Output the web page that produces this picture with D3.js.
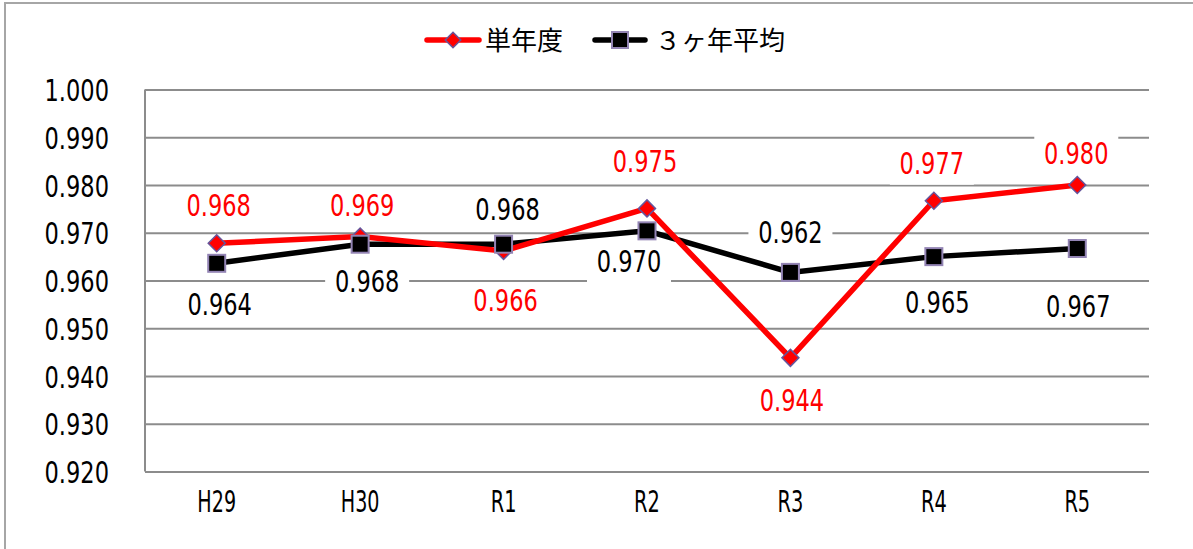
<!DOCTYPE html>
<html>
<head>
<meta charset="utf-8">
<script src="https://cdn.jsdelivr.net/npm/d3@7"></script>
<style>
  body { margin: 0; background: #fff; }
  svg text { font-family: "DejaVu Sans", sans-serif; }
</style>
</head>
<body>
<div id="chart"></div>
<script>
// data
const categories = ['H29', 'H30', 'R1', 'R2', 'R3', 'R4', 'R5'];
const singleYear = [0.9678, 0.9692, 0.9662, 0.9751, 0.9438, 0.9767, 0.9800];
const threeYearAvg = [0.9636, 0.9676, 0.9676, 0.9704, 0.9617, 0.9650, 0.9667];
const yTicks = [0.92, 0.93, 0.94, 0.95, 0.96, 0.97, 0.98, 0.99, 1.0];
const seriesNames = ['単年度', '３ヶ年平均'];

// hand placed label offsets (dx, dy from point)
const singleLabelPos = [[2, -27], [2, -21], [2, 60], [-2, -36], [1.5, 53], [-2, -26.5], [-1, -21]];
const avgLabelPos = [[3, 52], [7, 48], [4, -24], [-18, 41], [0, -29], [3.5, 56], [1, 68]];

const width = 1193;
const height = 549;
const fmt = d3.format('.3f');
const fontSize = 30.5;
const charW = 12.9; // condensed look of the original font

const squeeze = sel => sel
    .attr('textLength', function () { return this.textContent.length * charW; })
    .attr('lengthAdjust', 'spacingAndGlyphs');

const svg = d3.select('#chart')
    .append('svg')
    .attr('width', width)
    .attr('height', height);

// outer frame
svg.append('rect')
    .attr('x', 5).attr('y', 3)
    .attr('width', 1300).attr('height', 700)
    .attr('fill', 'none')
    .attr('stroke', '#a6a6a6')
    .attr('stroke-width', 2);

const x = d3.scaleBand()
    .domain(categories)
    .range([145, 1149]);

const y = d3.scaleLinear()
    .domain([0.92, 1.0])
    .range([471.5, 89.5]);

const cx = d => x(d) + x.bandwidth() / 2;

// gridlines
svg.append('g')
    .attr('transform', 'translate(145,0)')
    .call(d3.axisLeft(y).tickValues(yTicks).tickSize(-(1149 - 145)).tickFormat(''))
    .call(g => g.select('.domain').remove())
    .call(g => g.selectAll('line').attr('stroke', '#8c8c8c').attr('stroke-width', 2));

// vertical axis line
svg.append('line')
    .attr('x1', 145).attr('x2', 145)
    .attr('y1', y(1.0)).attr('y2', y(0.92))
    .attr('stroke', '#8c8c8c')
    .attr('stroke-width', 2);

// y tick labels
svg.append('g')
    .attr('transform', 'translate(109,0)')
    .call(d3.axisLeft(y).tickValues(yTicks).tickSize(0).tickPadding(0).tickFormat(fmt))
    .call(g => g.select('.domain').remove())
    .call(g => g.selectAll('text')
        .attr('fill', '#000')
        .attr('font-size', fontSize)
        .attr('dy', 11)
        .attr('font-family', null)
        .call(squeeze));

// x tick labels
svg.append('g')
    .attr('transform', 'translate(0,471.5)')
    .call(d3.axisBottom(x).tickSize(0).tickPadding(0))
    .call(g => g.select('.domain').remove())
    .call(g => g.selectAll('text')
        .attr('fill', '#000')
        .attr('font-size', fontSize)
        .attr('dy', 40)
        .attr('font-family', null)
        .call(squeeze));

const line = d3.line()
    .x((d, i) => cx(categories[i]))
    .y(d => y(d));

// 3-year average line
svg.append('path')
    .datum(threeYearAvg)
    .attr('d', line)
    .attr('fill', 'none')
    .attr('stroke', '#000')
    .attr('stroke-width', 5.5);

// single year line + diamonds
svg.append('path')
    .datum(singleYear)
    .attr('d', line)
    .attr('fill', 'none')
    .attr('stroke', '#ff0000')
    .attr('stroke-width', 5.5);

svg.selectAll('.diamond')
    .data(singleYear)
    .join('path')
    .attr('class', 'diamond')
    .attr('transform', (d, i) => `translate(${cx(categories[i])},${y(d)}) rotate(45)`)
    .attr('d', 'M-6,-6H6V6H-6Z')
    .attr('fill', '#ff0000')
    .attr('stroke', '#64559c')
    .attr('stroke-width', 1.5);

svg.selectAll('.square')
    .data(threeYearAvg)
    .join('rect')
    .attr('class', 'square')
    .attr('x', (d, i) => cx(categories[i]) - 8.5)
    .attr('y', d => y(d) - 8.5)
    .attr('width', 17)
    .attr('height', 17)
    .attr('fill', '#000')
    .attr('stroke', '#9384b4')
    .attr('stroke-width', 2);

// data labels with white boxes
const addLabels = (values, pos, color) => {
    const g = svg.append('g');
    values.forEach((v, i) => {
        const lx = cx(categories[i]) + pos[i][0];
        const ly = y(v) + pos[i][1];
        g.append('rect')
            .attr('x', lx - 42)
            .attr('y', ly - 28.5)
            .attr('width', 84)
            .attr('height', 39)
            .attr('fill', '#fff');
        g.append('text')
            .attr('x', lx)
            .attr('y', ly)
            .attr('text-anchor', 'middle')
            .attr('font-size', fontSize)
            .attr('fill', color)
            .text(fmt(v))
            .call(squeeze);
    });
};
addLabels(singleYear, singleLabelPos, '#ff0000');
addLabels(threeYearAvg, avgLabelPos, '#000');

// legend
const legend = svg.append('g');
const legendFont = '"Noto Sans CJK JP", sans-serif';
legend.append('line')
    .attr('x1', 427).attr('x2', 479).attr('y1', 40).attr('y2', 40)
    .attr('stroke', '#ff0000').attr('stroke-width', 5.5).attr('stroke-linecap', 'round');
legend.append('path')
    .attr('transform', 'translate(453,40) rotate(45)')
    .attr('d', 'M-5.5,-5.5H5.5V5.5H-5.5Z')
    .attr('fill', '#ff0000')
    .attr('stroke', '#64559c')
    .attr('stroke-width', 1.5);
legend.append('text')
    .attr('x', 485).attr('y', 50)
    .attr('font-size', 26)
    .style('font-family', legendFont)
    .text(seriesNames[0]);

legend.append('line')
    .attr('x1', 595).attr('x2', 645).attr('y1', 40).attr('y2', 40)
    .attr('stroke', '#000').attr('stroke-width', 5.5).attr('stroke-linecap', 'round');
legend.append('rect')
    .attr('x', 612).attr('y', 32).attr('width', 16).attr('height', 16)
    .attr('fill', '#000')
    .attr('stroke', '#9384b4')
    .attr('stroke-width', 2);
legend.append('text')
    .attr('x', 655).attr('y', 50)
    .attr('font-size', 26)
    .style('font-family', legendFont)
    .text(seriesNames[1]);
</script>
</body>
</html>
